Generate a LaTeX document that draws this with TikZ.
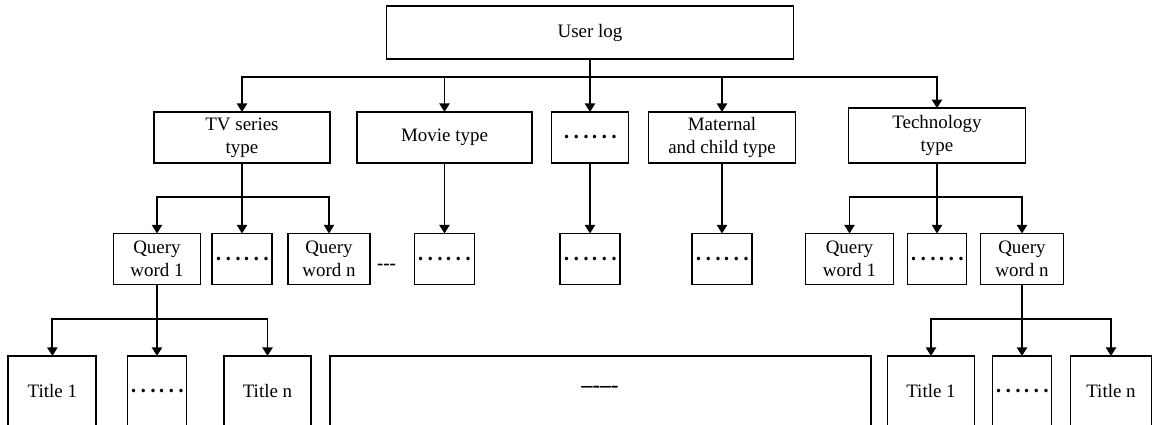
\documentclass[tikz,border=0pt]{standalone}
\usepackage{fontspec}
\setmainfont{Liberation Serif}
\newfontfamily\cjk{Noto Sans CJK SC}
\usetikzlibrary{arrows.meta}
\tikzset{
  box/.style = {draw, line width=1.1pt, inner sep=0pt, outer sep=0pt,
                align=center, font=\fontsize{10.8}{13.2}\selectfont},
  wd/.style = {minimum width=#1*0.02cm},
  ht/.style = {minimum height=#1*0.02cm},
  arr/.style = {line width=1.1pt, -{Triangle[length=0.17cm,width=0.2cm]}}
}
\newcommand\etcdots{{\cjk\fontsize{14.8}{14.8}\selectfont ……}}

\begin{document}
\begin{tikzpicture}[x=0.02cm, y=-0.02cm]
	\def \ya{137.5}
	\def \yb{259}
	\def \yc{391}
	\useasboundingbox (0,0) rectangle (1154,425);
	\clip (0,0) rectangle (1154,425);

	% Root
	\node[box, wd=407, ht=53] (log) at (590,32.5) {User log};

	% Types
	\node[box, wd=176, ht=51] (tv) at (242,\ya) {TV series\\type};
	\node[box, wd=175, ht=51] (movie) at (444.5,\ya) {Movie type};
	\node[box, wd=77, ht=51] (typedots) at (590,\ya) {\etcdots};
	\node[box, wd=147, ht=51] (maternal) at (722,\ya) {Maternal\\and child type};
	\node[box, wd=177, ht=55] (tech) at (937,135.7) {Technology\\type};

	% Query words
	\node[box, wd=87, ht=51] (tvq1) at (157,\yb) {Query\\word 1};
	\node[box, wd=60, ht=51] (tvqdots) at (242,\yb) {\etcdots};
	\node[box, wd=82, ht=51] (tvqn) at (329,\yb) {Query\\word n};
	\node[font=\fontsize{10.8}{13.2}\selectfont\bfseries, inner sep=0pt] (gap) at (386.5,267) {-{}-{}-};
	\node[box, wd=60, ht=51] (movieq) at (444.5,\yb) {\etcdots};
	\node[box, wd=60, ht=51] (typeq) at (590,\yb) {\etcdots};
	\node[box, wd=60, ht=51] (maternalq) at (722,\yb) {\etcdots};
	\node[box, wd=88, ht=51] (techq1) at (849.5,\yb) {Query\\word 1};
	\node[box, wd=59, ht=51] (techqdots) at (937,\yb) {\etcdots};
	\node[box, wd=83, ht=51] (techqn) at (1022,\yb) {Query\\word n};

	% Titles
	\node[box, wd=88, ht=70] (tvt1) at (52.4,\yc) {Title 1};
	\node[box, wd=59, ht=70] (tvtdots) at (157,\yc) {\etcdots};
	\node[box, wd=87, ht=70] (tvtn) at (267.5,\yc) {Title n};
	\node[box, wd=540.6, ht=70] (rest) at (600.3,391) {};
	\node[font=\fontsize{12.8}{13.2}\selectfont\bfseries, inner sep=0pt] (restdash) at (600,389.3) {\textendash-\textendash-};
	\node[box, wd=87, ht=70] (techt1) at (931,\yc) {Title 1};
	\node[box, wd=59, ht=70] (techtdots) at (1022,\yc) {\etcdots};
	\node[box, wd=81, ht=70] (techtn) at (1111,\yc) {Title n};

	% Connectors: root
	\coordinate (logbus) at (590,77);
	\draw[arr] (log.south) -- (typedots.north);
	\draw[arr] (logbus) -| (tv.north);
	\draw[arr] (logbus) -| (movie.north);
	\draw[arr] (logbus) -| (maternal.north);
	\draw[arr] (logbus) -| (tech.north);

	% Connectors: types
	\coordinate (tvbus) at (242,197);
	\draw[arr] (tv.south) -- (tvqdots.north);
	\draw[arr] (tvbus) -| (tvq1.north);
	\draw[arr] (tvbus) -| (tvqn.north);
	\draw[arr] (movie.south) -- (movieq.north);
	\draw[arr] (typedots.south) -- (typeq.north);
	\draw[arr] (maternal.south) -- (maternalq.north);
	\coordinate (techbus) at (937,197);
	\draw[arr] (tech.south) -- (techqdots.north);
	\draw[arr] (techbus) -| (techq1.north);
	\draw[arr] (techbus) -| (techqn.north);

	% Connectors: query words
	\coordinate (tvq1bus) at (157,319);
	\draw[arr] (tvq1.south) -- (tvtdots.north);
	\draw[arr] (tvq1bus) -| (tvt1.north);
	\draw[arr] (tvq1bus) -| (tvtn.north);
	\coordinate (techqnbus) at (1022,319);
	\draw[arr] (techqn.south) -- (techtdots.north);
	\draw[arr] (techqnbus) -| (techt1.north);
	\draw[arr] (techqnbus) -| (techtn.north);
\end{tikzpicture}
\end{document}
